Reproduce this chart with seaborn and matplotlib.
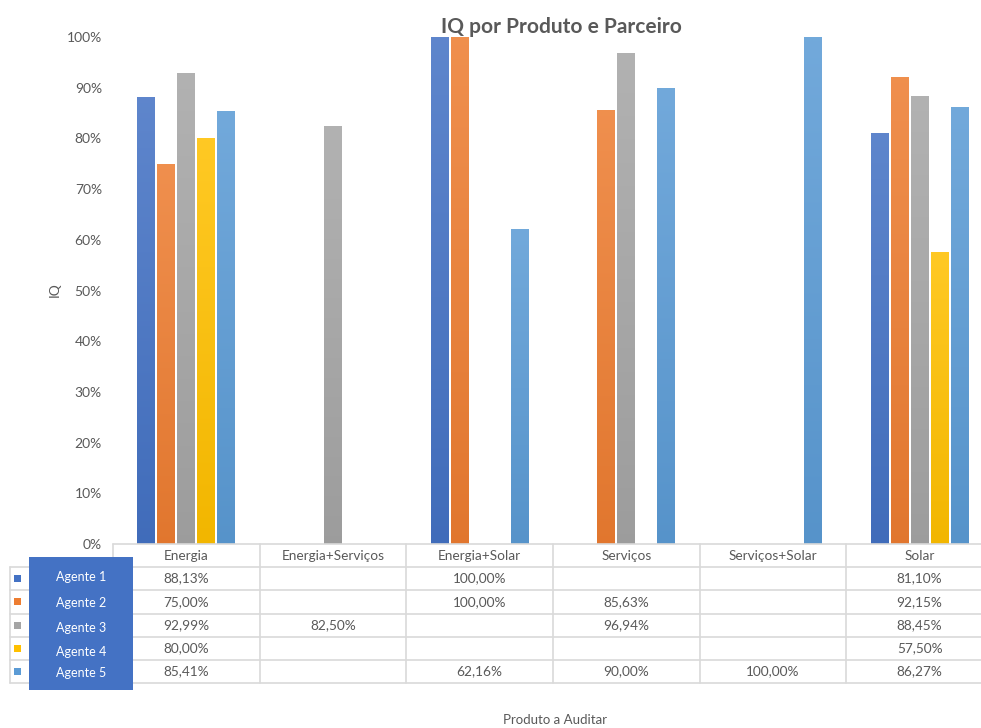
import numpy as np
import pandas as pd
import matplotlib
matplotlib.use("Agg")
import matplotlib.pyplot as plt
import seaborn as sns
from matplotlib.colors import to_rgb
from matplotlib.patches import Rectangle
from matplotlib.transforms import blended_transform_factory

# ---- data -------------------------------------------------------------
categories = ["Energia", "Energia+Serviços", "Energia+Solar",
              "Serviços", "Serviços+Solar", "Solar"]
agents = ["Agente 1", "Agente 2", "Agente 3", "Agente 4", "Agente 5"]

agente_1 = [88.13, np.nan, 100.00, np.nan, np.nan, 81.10]
agente_2 = [75.00, np.nan, 100.00, 85.63, np.nan, 92.15]
agente_3 = [92.99, 82.50, np.nan, 96.94, np.nan, 88.45]
agente_4 = [80.00, np.nan, np.nan, np.nan, np.nan, 57.50]
agente_5 = [85.41, np.nan, 62.16, 90.00, 100.00, 86.27]

y_ticks = list(range(0, 101, 10))
colors = ["#4472C4", "#ED7D31", "#A5A5A5", "#FFC000", "#5B9BD5"]

series = [agente_1, agente_2, agente_3, agente_4, agente_5]
df = pd.DataFrame(
    [(c, a, v) for a, vals in zip(agents, series) for c, v in zip(categories, vals)],
    columns=["Produto", "Agente", "IQ"],
)
df_bars = df.dropna()

# ---- style ------------------------------------------------------------
sns.set_theme(style="white")
plt.rcParams["font.family"] = ["Lato", "DejaVu Sans"]
TXT = "#595959"
GRID = "#d9d9d9"

W, H = 981, 728
fig = plt.figure(figsize=(W / 100, H / 100), dpi=100)
fig.patch.set_facecolor("white")

ax = fig.add_axes([113 / W, 1 - 544 / H, 880 / W, 507 / H])
sns.barplot(data=df_bars, x="Produto", y="IQ", hue="Agente",
            order=categories, hue_order=agents, palette=colors,
            width=0.68, gap=0.1, errorbar=None, legend=False, ax=ax,
            saturation=1)
ax.set_xlim(-0.5, len(categories) - 0.5)
ax.set_ylim(0, 100)

# vertical gradient fill on every bar (lighter at the top)
def mix(c, other, t):
    c = np.array(to_rgb(c)); o = np.array(other)
    return c * (1 - t) + o * t

for p in list(ax.patches):
    h = p.get_height()
    if not np.isfinite(h) or h <= 0:
        continue
    fc = p.get_facecolor()[:3]
    top = mix(fc, (1, 1, 1), 0.14)
    bot = mix(fc, (0, 0, 0), 0.05)
    t = np.linspace(0, 1, 64)[:, None]
    grad = (top[None, :] * (1 - t) + bot[None, :] * t)[:, None, :]
    x0, w = p.get_x(), p.get_width()
    im = ax.imshow(grad, extent=[x0, x0 + w, 0, h], aspect="auto",
                   origin="upper", zorder=p.get_zorder() + 0.1,
                   interpolation="bilinear")
    im.set_clip_path(p)
    p.set_edgecolor("none")
ax.set_xlim(-0.5, len(categories) - 0.5)
ax.set_ylim(0, 100)
ax.set_aspect("auto")

ax.set_yticks(y_ticks)
ax.set_yticklabels([f"{v}%" for v in y_ticks])
ax.tick_params(axis="y", length=0, pad=8, labelsize=10, labelcolor=TXT)
ax.set_xticks([])
ax.set_xlabel("")
ax.set_ylabel("")
for s in ax.spines.values():
    s.set_visible(False)

# ---- overlay in pixel coordinates for the data table -------------------
ov = fig.add_axes([0, 0, 1, 1], zorder=5)
ov.set_xlim(0, W)
ov.set_ylim(H, 0)
ov.axis("off")
ov.patch.set_alpha(0)
tr = blended_transform_factory(ax.transData, ov.transData)

rows = [544, 567, 590, 613.5, 636.5, 659.5, 683]
left_px = 10
n = len(categories)
right = n - 0.5 + 0.2

# horizontal lines
ov.plot([-0.5, right], [rows[0], rows[0]], transform=tr, color=GRID, lw=1.2, clip_on=False)
for yv in rows[1:]:
    ov.plot([left_px, W], [yv, yv], color=GRID, lw=1.2, clip_on=False)
# vertical lines
ov.plot([left_px, left_px], [rows[1], rows[-1]], color=GRID, lw=1.2)
for i in range(n):
    ov.plot([i - 0.5, i - 0.5], [rows[0], rows[-1]], transform=tr, color=GRID, lw=1.2)

# header labels
for i, c in enumerate(categories):
    ov.text(i, (rows[0] + rows[1]) / 2, c, transform=tr, ha="center", va="center",
            fontsize=9.8, color=TXT)

# values and legend keys
for r, (a, vals, col) in enumerate(zip(agents, series, colors)):
    yc = (rows[r + 1] + rows[r + 2]) / 2
    for i, v in enumerate(vals):
        if np.isfinite(v):
            ov.text(i, yc, f"{v:.2f}".replace(".", ",") + "%", transform=tr,
                    ha="center", va="center", fontsize=9.8, color=TXT)
    ov.add_patch(Rectangle((14, yc - 3.5), 7, 7, color=col, lw=0))

# label box over the legend column
ov.add_patch(Rectangle((29, 557), 104, 133, facecolor="#4472C4", edgecolor="none", zorder=6))
label_y = [577, 603, 628, 652, 673]
for a, yl in zip(agents, label_y):
    ov.text(81, yl, a, ha="center", va="center", fontsize=9, color="white", zorder=7)

# titles
ov.text(561, 27, "IQ por Produto e Parceiro", ha="center", va="center",
        fontsize=15, fontweight="bold", color=TXT)
ov.text(55, 290, "IQ", ha="center", va="center", rotation=90, fontsize=10, color=TXT)
ov.text(555, 720, "Produto a Auditar", ha="center", va="center", fontsize=9.5, color=TXT)

fig.savefig("out.png", dpi=100)
